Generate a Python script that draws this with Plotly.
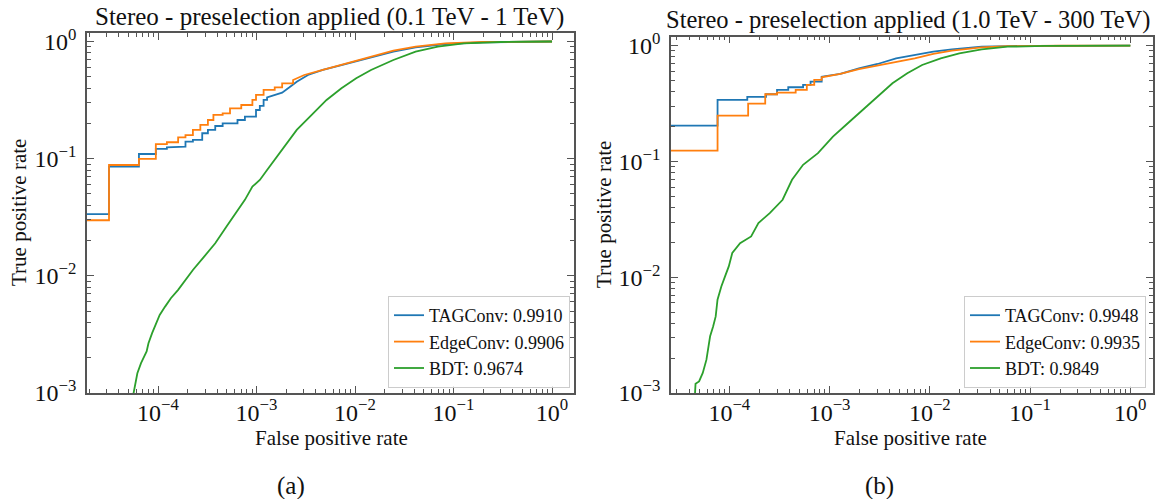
import plotly.graph_objects as go

# ---------------- data ----------------
# Left panel: 0.1 TeV - 1 TeV
left_fpr_tag = [1e-6, 3.18e-5, 3.18e-5, 6.4e-5, 6.4e-5, 9.5e-5, 9.5e-5, 1.23e-4, 1.23e-4, 1.6e-4, 1.6e-4,
                1.9e-4, 1.9e-4, 2.26e-4, 2.26e-4, 2.81e-4, 2.81e-4, 3.21e-4, 3.21e-4, 3.81e-4, 3.81e-4,
                4.53e-4, 4.53e-4, 6.41e-4, 6.41e-4, 7.62e-4, 7.62e-4, 9.88e-4, 9.88e-4, 1.08e-3, 1.08e-3,
                1.18e-3, 1.18e-3, 1.28e-3, 1.28e-3, 1.82e-3, 2.16e-3, 2.56e-3, 3.33e-3, 4.71e-3, 7.28e-3,
                0.01453, 0.0245, 0.0412, 0.0826, 0.1965, 0.468, 1.0]
left_tpr_tag = [0.0336, 0.0336, 0.0855, 0.0855, 0.1096, 0.1096, 0.121, 0.121, 0.125, 0.125, 0.1266,
                0.1266, 0.1396, 0.1396, 0.1444, 0.1444, 0.1648, 0.1648, 0.1758, 0.1758, 0.190,
                0.190, 0.2004, 0.2004, 0.2138, 0.2138, 0.2283, 0.2283, 0.2603, 0.2603, 0.2817,
                0.2817, 0.3169, 0.3169, 0.334, 0.3657, 0.4064, 0.4539, 0.5177, 0.5714, 0.630,
                0.733, 0.818, 0.892, 0.952, 0.984, 0.997, 1.0]

left_fpr_edge = [1e-6, 3.18e-5, 3.18e-5, 6.4e-5, 6.4e-5, 9.5e-5, 9.5e-5, 1.23e-4, 1.23e-4, 1.6e-4, 1.6e-4,
                 1.9e-4, 1.9e-4, 2.26e-4, 2.26e-4, 2.69e-4, 2.69e-4, 3.21e-4, 3.21e-4, 3.65e-4, 3.65e-4,
                 4.53e-4, 4.53e-4, 5.38e-4, 5.38e-4, 7.0e-4, 7.0e-4, 9.08e-4, 9.08e-4, 9.88e-4, 9.88e-4,
                 1.18e-3, 1.18e-3, 1.53e-3, 1.53e-3, 1.82e-3, 1.82e-3, 2.35e-3, 2.35e-3, 3.05e-3,
                 4.71e-3, 7.28e-3, 0.01453, 0.0245, 0.0412, 0.0826, 0.1965, 1.0]
left_tpr_edge = [0.0298, 0.0298, 0.0883, 0.0883, 0.0994, 0.0994, 0.133, 0.133, 0.138, 0.138, 0.152,
                 0.152, 0.159, 0.159, 0.1758, 0.1758, 0.194, 0.194, 0.2138, 0.2138, 0.236,
                 0.236, 0.2438, 0.2438, 0.269, 0.269, 0.287, 0.287, 0.3169, 0.3169, 0.3496,
                 0.3496, 0.3857, 0.3857, 0.4064, 0.4064, 0.4399, 0.4399, 0.469, 0.5177,
                 0.5714, 0.632, 0.742, 0.835, 0.903, 0.965, 0.99, 1.0]

left_fpr_bdt = [5.5e-5, 5.65e-5, 6.17e-5, 6.72e-5, 7.66e-5, 8.0e-5, 8.71e-5, 9.5e-5, 1.04e-4, 1.18e-4, 1.35e-4,
                1.6e-4, 1.9e-4, 2.26e-4, 2.94e-4, 3.81e-4, 4.94e-4, 6.41e-4, 7.62e-4, 9.08e-4, 1.08e-3,
                1.28e-3, 1.82e-3, 2.56e-3, 3.63e-3, 5.14e-3, 7.28e-3, 0.01028, 0.01453, 0.0245, 0.0412,
                0.0693, 0.127, 0.303, 1.0]
left_tpr_bdt = [8.5e-4, 1.0e-3, 1.475e-3, 1.80e-3, 2.26e-3, 2.66e-3, 3.24e-3, 3.94e-3, 4.64e-3, 5.46e-3, 6.44e-3,
                7.59e-3, 9.23e-3, 0.01122, 0.01459, 0.01897, 0.0263, 0.0365, 0.0445, 0.0577, 0.0658,
                0.0801, 0.1186, 0.1758, 0.236, 0.3169, 0.3985, 0.485, 0.5714, 0.695, 0.818,
                0.903, 0.965, 0.99, 1.0]

# Right panel: 1.0 TeV - 300 TeV
right_fpr_tag = [1e-6, 7.63e-5, 7.63e-5, 1.51e-4, 1.51e-4, 2.32e-4, 2.32e-4, 2.99e-4, 2.99e-4, 3.87e-4, 3.87e-4,
                 5.44e-4, 5.44e-4, 6.46e-4, 6.46e-4, 8.34e-4, 8.34e-4, 1.28e-3, 1.96e-3, 3.01e-3, 4.61e-3,
                 7.07e-3, 0.01083, 0.0166, 0.0329, 0.06, 0.2, 1.0]
right_tpr_tag = [0.204, 0.204, 0.340, 0.340, 0.361, 0.361, 0.3806, 0.3806, 0.415, 0.415, 0.4375,
                 0.4375, 0.458, 0.458, 0.489, 0.489, 0.540, 0.570, 0.638, 0.695, 0.778,
                 0.831, 0.888, 0.931, 0.98, 0.993, 0.999, 1.0]

right_fpr_edge = [1e-6, 7.63e-5, 7.63e-5, 1.54e-4, 1.54e-4, 2.28e-4, 2.28e-4, 2.99e-4, 2.99e-4, 4.59e-4, 4.59e-4,
                  5.93e-4, 5.93e-4, 7.03e-4, 7.03e-4, 8.34e-4, 8.34e-4, 1.28e-3, 1.96e-3, 3.01e-3, 4.61e-3,
                  7.07e-3, 0.01083, 0.0166, 0.0329, 0.0597, 0.2, 1.0]
right_tpr_edge = [0.124, 0.124, 0.249, 0.249, 0.316, 0.316, 0.3806, 0.3806, 0.393, 0.393, 0.415,
                  0.415, 0.458, 0.458, 0.506, 0.506, 0.533, 0.570, 0.629, 0.672, 0.728,
                  0.778, 0.848, 0.906, 0.969, 0.99, 0.999, 1.0]

right_fpr_bdt = [4.5e-5, 4.6e-5, 4.99e-5, 5.43e-5, 5.91e-5, 6.17e-5, 6.43e-5, 6.89e-5, 7.31e-5, 7.62e-5, 8.32e-5,
                 9.06e-5, 9.87e-5, 1.07e-4, 1.28e-4, 1.65e-4, 1.95e-4, 2.53e-4, 3.40e-4, 4.22e-4, 5.44e-4,
                 7.66e-4, 1.08e-3, 1.52e-3, 2.13e-3, 3.01e-3, 4.24e-3, 5.96e-3, 8.38e-3, 0.01285, 0.0197,
                 0.0329, 0.0597, 0.1406, 0.4, 1.0]
right_tpr_bdt = [8.5e-4, 1.2e-3, 1.26e-3, 1.49e-3, 1.94e-3, 2.45e-3, 3.09e-3, 3.76e-3, 4.59e-3, 6.39e-3, 8.33e-3,
                 0.01016, 0.0124, 0.0162, 0.0197, 0.0225, 0.0294, 0.0358, 0.0467, 0.0694, 0.0935,
                 0.118, 0.164, 0.214, 0.279, 0.363, 0.4735, 0.578, 0.6816, 0.778, 0.86,
                 0.931, 0.98, 0.995, 0.9995, 1.0]

left_labels = ["TAGConv: 0.9910", "EdgeConv: 0.9906", "BDT: 0.9674"]
right_labels = ["TAGConv: 0.9948", "EdgeConv: 0.9935", "BDT: 0.9849"]
titles = ["Stereo - preselection applied (0.1 TeV - 1 TeV)",
          "Stereo - preselection applied (1.0 TeV - 300 TeV)"]
captions = ["(a)", "(b)"]
x_title = "False positive rate"
y_title = "True positive rate"

x_major = [1e-4, 1e-3, 1e-2, 1e-1, 1.0]
x_major_text = ["10<sup>\u22124</sup>", "10<sup>\u22123</sup>", "10<sup>\u22122</sup>",
                "10<sup>\u22121</sup>", "10<sup>0</sup>"]
y_major = [1e-3, 1e-2, 1e-1, 1.0]
y_major_text = ["10<sup>\u22123</sup>", "10<sup>\u22122</sup>", "10<sup>\u22121</sup>", "10<sup>0</sup>"]

colors = ["#1f77b4", "#ff7f0e", "#2ca02c"]
FONT = "Liberation Serif"
W, H = 1164, 499

# ---------------- figure ----------------
fig = go.Figure()

panels = [
    dict(xa="x", ya="y", legend="legend",
         series=[(left_fpr_tag, left_tpr_tag), (left_fpr_edge, left_tpr_edge), (left_fpr_bdt, left_tpr_bdt)],
         labels=left_labels),
    dict(xa="x2", ya="y2", legend="legend2",
         series=[(right_fpr_tag, right_tpr_tag), (right_fpr_edge, right_tpr_edge), (right_fpr_bdt, right_tpr_bdt)],
         labels=right_labels),
]
for p in panels:
    for (fx, ty), lab, col in zip(p["series"], p["labels"], colors):
        fig.add_trace(go.Scatter(x=fx, y=ty, mode="lines", name=lab, xaxis=p["xa"], yaxis=p["ya"],
                                 legend=p["legend"], line=dict(color=col, width=1.8)))

minor_x = [m * 10.0 ** e for e in range(-5, 0) for m in range(2, 10)]
minor_y = [m * 10.0 ** e for e in range(-3, 0) for m in range(2, 10)]

frame = "#555555"
def xaxis(domain, rng, anchor):
    return dict(type="log", domain=domain, range=rng, anchor=anchor, showgrid=False, zeroline=False,
                automargin=False,
                showline=True, linecolor=frame, linewidth=1.5, mirror="allticks",
                ticks="inside", ticklen=7, tickwidth=1.2, tickcolor=frame,
                tickvals=x_major, ticktext=x_major_text, ticklabelstandoff=-3,
                tickfont=dict(family=FONT, size=24, color="#111"),
                minor=dict(tickvals=minor_x, ticks="inside", ticklen=4, tickwidth=1, tickcolor=frame))

def yaxis(domain, rng, anchor):
    return dict(type="log", domain=domain, range=rng, anchor=anchor, showgrid=False, zeroline=False,
                automargin=False,
                showline=True, linecolor=frame, linewidth=1.5, mirror="allticks",
                ticks="inside", ticklen=7, tickwidth=1.2, tickcolor=frame,
                tickvals=y_major, ticktext=y_major_text, ticklabelstandoff=4,
                tickfont=dict(family=FONT, size=24, color="#111"),
                minor=dict(tickvals=minor_y, ticks="inside", ticklen=4, tickwidth=1, tickcolor=frame))

def px_x(v):
    return v / W
def px_y(v):
    return 1 - v / H

legend_style = dict(font=dict(family=FONT, size=18, color="#111"), bgcolor="rgba(255,255,255,0.85)",
                    bordercolor="#cccccc", borderwidth=1, xanchor="right", yanchor="bottom",
                    tracegroupgap=0, itemwidth=30)

fig.update_layout(
    width=W, height=H, margin=dict(l=0, r=0, t=0, b=0, autoexpand=False),
    paper_bgcolor="white", plot_bgcolor="white",
    font=dict(family=FONT, color="#111"),
    xaxis=xaxis([px_x(87), px_x(574)], [-4.721, 0.223], "y"),
    yaxis=yaxis([px_y(393), px_y(33)], [-3, 0.0725], "x"),
    xaxis2=xaxis([px_x(671), px_x(1153)], [-4.582, 0.2265], "y2"),
    yaxis2=yaxis([px_y(393), px_y(36.7)], [-3, 0.0777], "x2"),
    legend=dict(x=px_x(570), y=px_y(388), **legend_style),
    legend2=dict(x=px_x(1146), y=px_y(388), **legend_style),
)

ann = []
# panel titles
ann.append(dict(text=titles[0], x=px_x(329), y=px_y(17), font=dict(size=25)))
ann.append(dict(text=titles[1], x=px_x(908), y=px_y(20.5), font=dict(size=24.5)))
# axis titles
ann.append(dict(text=x_title, x=px_x(331), y=px_y(438), font=dict(size=21)))
ann.append(dict(text=x_title, x=px_x(910), y=px_y(438), font=dict(size=21)))
ann.append(dict(text=y_title, x=px_x(19), y=px_y(213), textangle=-90, font=dict(size=21)))
ann.append(dict(text=y_title, x=px_x(604), y=px_y(215), textangle=-90, font=dict(size=21)))
# captions
ann.append(dict(text=captions[0], x=px_x(291), y=px_y(486), font=dict(size=25)))
ann.append(dict(text=captions[1], x=px_x(879), y=px_y(486), font=dict(size=25)))
for a in ann:
    a.update(xref="paper", yref="paper", xanchor="center", yanchor="middle", showarrow=False)
    a["font"].update(family=FONT, color="#111")
fig.update_layout(annotations=ann)

fig.write_html("out.html", config={"displayModeBar": False},
               post_script="document.body.style.margin='0px';document.body.style.overflow='hidden';")
